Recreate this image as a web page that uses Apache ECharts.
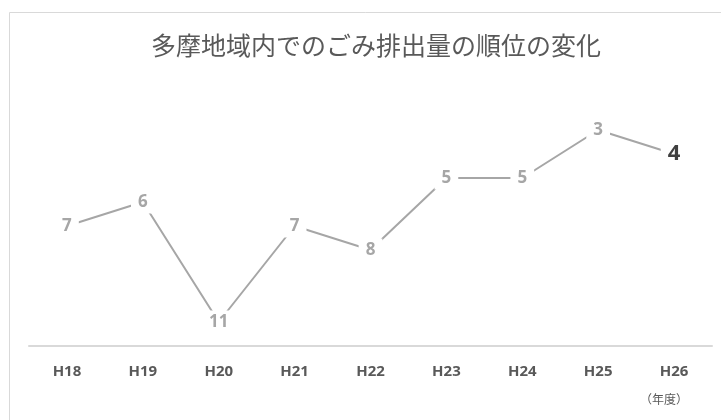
<!DOCTYPE html>
<html>
<head>
<meta charset="utf-8">
<script src="https://cdn.jsdelivr.net/npm/echarts@6/dist/echarts.min.js"></script>
<style>
html,body{margin:0;padding:0;background:#fff;}
#chart{width:721px;height:420px;}
</style>
</head>
<body>
<div id="chart"></div>
<script>
const categories = ['H18','H19','H20','H21','H22','H23','H24','H25','H26'];
const ranks = [7, 6, 11, 7, 8, 5, 5, 3, 4];
const titleText = '多摩地域内でのごみ排出量の順位の変化';
const unitText = '（年度）';

const chart = echarts.init(document.getElementById('chart'), null, {renderer:'canvas'});
const lastIdx = ranks.length - 1;
const seriesData = ranks.map((v, i) => i === lastIdx ? {
  value: v,
  label: { color: '#404040', fontSize: 22, fontWeight: 'bold' }
} : v);

chart.setOption({
  animation: false,
  backgroundColor: '#fff',
  title: {
    text: titleText,
    left: 371, textAlign: 'center', top: 28,
    textStyle: { fontFamily: 'Noto Sans CJK JP', fontSize: 25, fontWeight: 'normal', color: '#595959' }
  },
  graphic: [
    { type: 'rect', shape: { x: 9.5, y: 12.5, width: 760, height: 460 },
      style: { fill: 'none', stroke: '#d9d9d9', lineWidth: 1 }, z: 0 },
    { type: 'text', left: 640, top: 393,
      style: { text: unitText, fontFamily: 'Noto Sans CJK JP', fontSize: 12, fill: '#595959' } }
  ],
  grid: { left: 29, right: 9, top: 58, bottom: 74 },
  xAxis: {
    type: 'category',
    data: categories,
    boundaryGap: true,
    position: 'bottom',
    axisLine: { onZero: false, lineStyle: { color: '#d9d9d9', width: 2 } },
    axisTick: { show: false },
    axisLabel: { margin: 18, fontFamily: 'Noto Sans', fontWeight: 'bold', fontSize: 15, color: '#595959' },
    splitLine: { show: false }
  },
  yAxis: {
    type: 'value', inverse: true, min: 0, max: 12,
    show: false, splitLine: { show: false }
  },
  series: [{
    type: 'line',
    data: seriesData,
    symbol: 'circle',
    symbolSize: 1,
    itemStyle: { color: '#a6a6a6' },
    lineStyle: { color: '#a6a6a6', width: 2 },
    label: {
      show: true, position: 'inside',
      fontFamily: 'Noto Sans', fontWeight: 'bold', fontSize: 17, color: '#a6a6a6',
      backgroundColor: '#fff', padding: [3, 7]
    }
  }]
});
</script>
</body>
</html>
